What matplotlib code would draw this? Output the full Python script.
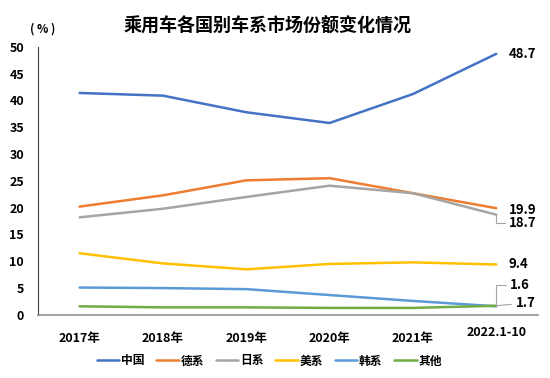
import matplotlib
matplotlib.use('Agg')
import matplotlib.pyplot as plt

plt.rcParams['font.family'] = ['Noto Sans CJK SC', 'DejaVu Sans']

years = ['2017年', '2018年', '2019年', '2020年', '2021年', '2022.1-10']
china = [41.4, 40.9, 37.8, 35.8, 41.2, 48.7]
german = [20.2, 22.3, 25.1, 25.5, 22.7, 19.9]
japan = [18.2, 19.8, 22.0, 24.1, 22.7, 18.7]
usa = [11.5, 9.6, 8.5, 9.5, 9.8, 9.4]
korea = [5.1, 5.0, 4.8, 3.7, 2.6, 1.6]
other = [1.6, 1.4, 1.4, 1.3, 1.3, 1.7]

series = [('中国', china, '#4472C4'),
          ('德系', german, '#ED7D31'),
          ('日系', japan, '#A5A5A5'),
          ('美系', usa, '#FFC000'),
          ('韩系', korea, '#5B9BD5'),
          ('其他', other, '#70AD47')]

fig = plt.figure(figsize=(5.5, 3.78), dpi=100)
ax = fig.add_axes([0.069, 0.167, 0.909, 0.709])

x = list(range(len(years)))
for name, vals, col in series:
    ax.plot(x, vals, color=col, lw=1.8, label=name, solid_capstyle='round')

ax.set_xlim(-0.5, 5.5)
ax.set_ylim(0, 50)
ax.set_yticks(range(0, 51, 5))
ax.set_xticks(x)
ax.set_xticklabels(years)
for lab in ax.get_xticklabels() + ax.get_yticklabels():
    lab.set_fontweight('black')
    lab.set_fontsize(9)
ax.get_xticklabels()[-1].set_y(0.02)
ax.tick_params(axis='both', length=0)
ax.tick_params(axis='x', pad=12)
ax.tick_params(axis='y', pad=10)
ax.spines['top'].set_visible(False)
ax.spines['right'].set_visible(False)
ax.spines['left'].set_color('#404040')
ax.spines['bottom'].set_color('#909090')
ax.spines['bottom'].set_linewidth(1.2)

# end labels
last = len(years) - 1
lab_kw = dict(fontsize=9.5, fontweight='black', va='center', ha='left')
ax.annotate('48.7', (last, china[-1]), xytext=(9, 0), textcoords='offset points', **lab_kw)
ax.annotate('19.9', (last, german[-1]), xytext=(9, -1), textcoords='offset points', **lab_kw)
ax.annotate('18.7', (last, japan[-1]), xytext=(9, -6), textcoords='offset points',
            arrowprops=dict(arrowstyle='-', color='#A5A5A5', lw=0.8,
                            connectionstyle='angle,angleA=0,angleB=90,rad=0',
                            shrinkA=1, shrinkB=0), **lab_kw)
ax.annotate('9.4', (last, usa[-1]), xytext=(9, 0), textcoords='offset points', **lab_kw)
ax.annotate('1.6', (last, korea[-1]), xytext=(10, 15), textcoords='offset points',
            arrowprops=dict(arrowstyle='-', color='#A5A5A5', lw=0.8,
                            connectionstyle='angle,angleA=0,angleB=90,rad=0',
                            shrinkA=1, shrinkB=0), **lab_kw)
ax.annotate('1.7', (last, other[-1]), xytext=(14, 2), textcoords='offset points',
            arrowprops=dict(arrowstyle='-', color='#A5A5A5', lw=0.8,
                            shrinkA=1, shrinkB=0), **lab_kw)

fig.text(0.487, 0.93, '乘用车各国别车系市场份额变化情况', ha='center', va='center',
         fontsize=13, fontweight='black')
fig.text(0.077, 0.922, '( % )', ha='center', va='center', fontsize=8.5, fontweight='black')

leg = fig.legend(loc='center', bbox_to_anchor=(0.49, 0.045), ncol=6, frameon=False,
                 handlelength=1.9, handletextpad=0.15, columnspacing=1.0,
                 prop={'weight': 'black', 'size': 8.5})

fig.savefig('out.png', dpi=100)
